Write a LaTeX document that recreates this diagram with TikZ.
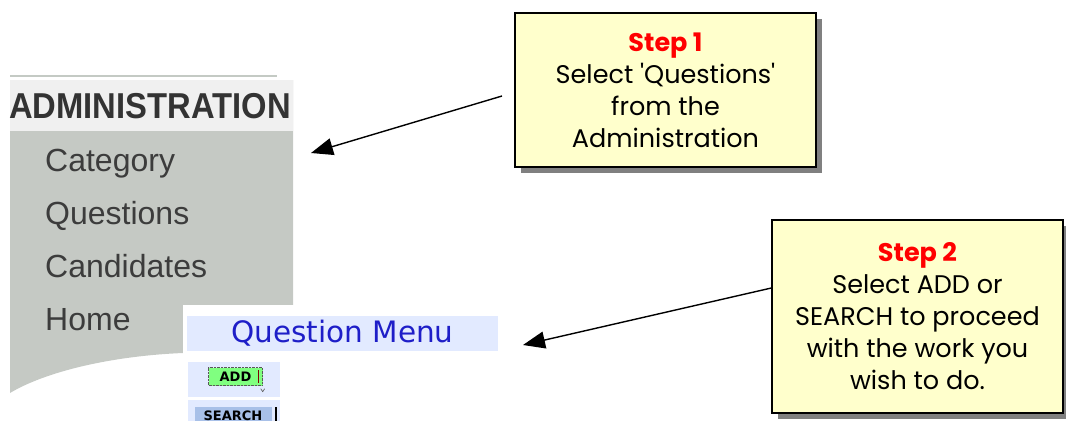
\documentclass[tikz,border=0pt]{standalone}
\usepackage{fontspec}
\usepackage{graphicx}
\setmainfont{Poppins}
\newfontfamily\menufont{Liberation Sans}
\newfontfamily\qmfont{DejaVu Sans}
\usepackage{tikz}
\usetikzlibrary{calc}
\usetikzlibrary{arrows.meta}
\usetikzlibrary{shadows}
\usetikzlibrary{positioning}

\definecolor{panelgray}{RGB}{197,201,196}
\definecolor{headgray}{RGB}{240,240,240}
\definecolor{linegray}{RGB}{196,202,196}
\definecolor{menutext}{RGB}{60,60,60}
\definecolor{qmblue}{RGB}{226,234,255}
\definecolor{qmtext}{RGB}{30,30,200}
\definecolor{addgreen}{RGB}{128,255,128}
\definecolor{searchblue}{RGB}{168,192,232}
\definecolor{noteyellow}{RGB}{255,255,204}
\definecolor{stepred}{RGB}{255,0,0}

\tikzset{
    stepbox/.style={draw=black, line width=1.3pt, fill=noteyellow, align=center, inner sep=0pt,
        font=\fontsize{25.5}{32}\selectfont,
        drop shadow={shadow xshift=6pt, shadow yshift=-6pt, fill=gray, opacity=1}},
    menuitem/.style={anchor=base west, inner sep=0pt, text=menutext, font=\menufont\fontsize{32}{32}\selectfont},
    pointer/.style={line width=1.4pt, -{Triangle[length=22pt,width=17pt]}},
    smallbtn/.style={inner sep=0pt, font=\qmfont\bfseries\fontsize{13}{13}\selectfont}
}

\begin{document}
\begin{tikzpicture}[x=1pt, y=-1pt]
    \useasboundingbox (0,0) rectangle (1066,421);

    % administration panel
    \fill[panelgray] (10,80) -- (293,80) -- (293,305) -- (183,305) -- (183,353)
        .. controls (110,356) and (45,372) .. (10,393) -- cycle;
    \draw[linegray, line width=2pt] (10,76) -- (277,76);
    \fill[headgray] (10,80) rectangle (293,131);
    \node (admin) [inner sep=0pt, text=black!80, font=\menufont\bfseries\fontsize{36}{36}\selectfont] at (150,106) {\scalebox{0.91}[1]{ADMINISTRATION}};
    \foreach \item [count=\i] in {Category,Questions,Candidates,Home}
        \node[menuitem] (item\i) at (45,171+53*\i-53) {\item};

    % question menu
    \fill[white] (183,305) rectangle (500,421);
    \node (qmenu) [fill=qmblue, minimum width=311pt, minimum height=35pt, inner sep=0pt, text=qmtext, font=\qmfont\fontsize{29.5}{29.5}\selectfont] at (342.5,333.5) {Question Menu};
    \fill[qmblue] (188,362) rectangle (280,397);
    \node (add) [smallbtn, fill=addgreen, draw=gray!70!black, densely dotted, minimum width=54pt, minimum height=18pt] at (235.5,376.5) {ADD};
    \draw[red!50!black, line width=1.5pt] ($(add.north east)+(-4,3)$) -- ($(add.south east)+(-4,-3)$);
    \draw[gray!70!black, line width=0.6pt] ($(add.south east)+(-2,3)$) -- ++(2,3) -- ++(2,-3);
    \fill[qmblue] (188,400) rectangle (280,421);
    \fill[searchblue] (195,407) rectangle (272,421);
    \node (search) [smallbtn, anchor=base] at (233,420) {SEARCH};
    \draw[black, line width=1.5pt] (276,407) -- (276,421);

    % notes
    \node (step1) [stepbox, minimum width=301pt, minimum height=154pt] at (665.5,90)
        {\textcolor{stepred}{\bfseries Step 1}\\Select \textquotesingle Questions\textquotesingle\\from the\\Administration};
    \node (step2) [stepbox, minimum width=291pt, minimum height=193pt] at (917.5,316.5)
        {\textcolor{stepred}{\bfseries Step 2}\\Select ADD or\\SEARCH to proceed\\with the work you\\wish to do.};

    \coordinate (tail1) at (502,96);
    \coordinate (tip1) at (311,153);
    \coordinate (tail2) at ($(step2.west)+(0,-28.5)$);
    \coordinate (tip2) at (523,345);
    \draw[pointer] (tail1) -- (tip1);
    \draw[pointer] (tail2) -- (tip2);
\end{tikzpicture}
\end{document}
